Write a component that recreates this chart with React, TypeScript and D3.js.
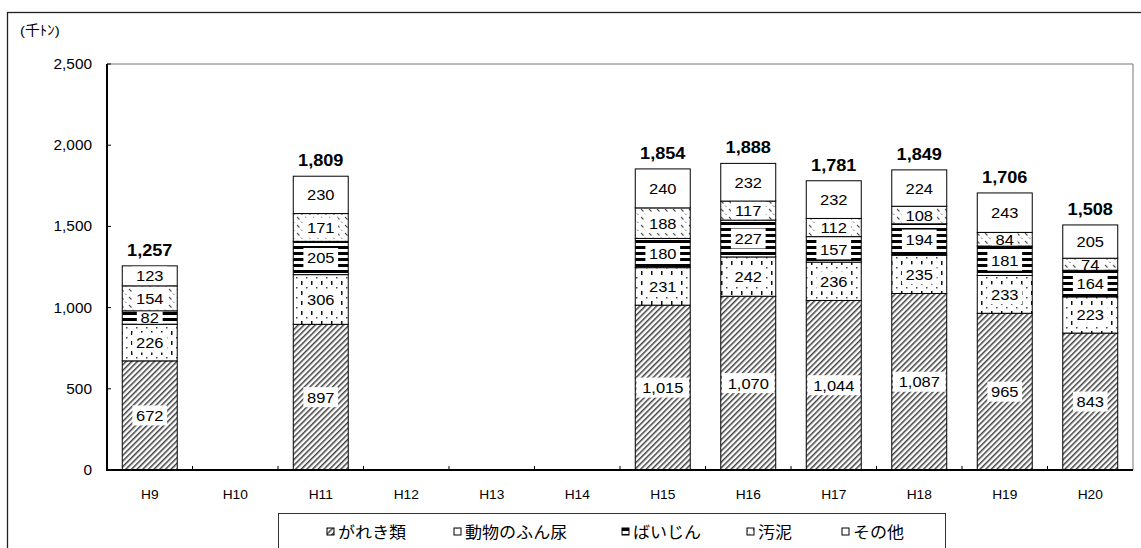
import React, { useEffect, useRef } from 'react';
import * as d3 from 'd3';

// 年度
const years = ['H9', 'H10', 'H11', 'H12', 'H13', 'H14', 'H15', 'H16', 'H17', 'H18', 'H19', 'H20'];
// series (bottom -> top); null = no survey that year
const gareki = [672, null, 897, null, null, null, 1015, 1070, 1044, 1087, 965, 843];
const doubutsu = [226, null, 306, null, null, null, 231, 242, 236, 235, 233, 223];
const baijin = [82, null, 205, null, null, null, 180, 227, 157, 194, 181, 164];
const odei = [154, null, 171, null, null, null, 188, 117, 112, 108, 84, 74];
const sonota = [123, null, 230, null, null, null, 240, 232, 232, 224, 243, 205];
const totals = [1257, null, 1809, null, null, null, 1854, 1888, 1781, 1849, 1706, 1508];
const seriesNames = ['がれき類', '動物のふん尿', 'ばいじん', '汚泥', 'その他'];
const yTicks = [0, 500, 1000, 1500, 2000, 2500];

const SX = 1.1; // the source text is a bit wide
const FONT = "'Liberation Sans', Arial, 'Noto Sans CJK JP', sans-serif";

const App: React.FC = () => {
  const ref = useRef<SVGSVGElement | null>(null);

  useEffect(() => {
    if (!ref.current) return;
    const svg = d3.select(ref.current);
    svg.selectAll('*').remove();

    const plot = { left: 107, right: 1133, top: 64, bottom: 470 };

    const x = d3.scaleBand()
      .domain(years)
      .range([plot.left, plot.right])
      .paddingInner(0.357)
      .paddingOuter(0.1785);

    const y = d3.scaleLinear()
      .domain([0, 2500])
      .range([plot.bottom, plot.top]);

    const fmt = d3.format(',');

    const stretchedText = (g: any, px: number, py: number, str: string, size: number, anchor = 'middle', weight = 'normal') =>
      g.append('text')
        .attr('transform', `translate(${px},${py}) scale(${SX},1)`)
        .attr('text-anchor', anchor)
        .attr('font-size', size)
        .attr('font-weight', weight)
        .attr('font-family', FONT)
        .attr('fill', '#000')
        .text(str);

    // patterns
    const defs = svg.append('defs');
    const p1 = defs.append('pattern').attr('id', 'p-gareki')
      .attr('patternUnits', 'userSpaceOnUse').attr('width', 4).attr('height', 4)
      .attr('patternTransform', 'rotate(45)');
    p1.append('rect').attr('width', 4).attr('height', 4).attr('fill', '#fff');
    p1.append('line').attr('x1', 0.8).attr('y1', 0).attr('x2', 0.8).attr('y2', 4)
      .attr('stroke', '#222').attr('stroke-width', 1.3);

    const p2 = defs.append('pattern').attr('id', 'p-doubutsu')
      .attr('patternUnits', 'userSpaceOnUse').attr('width', 10).attr('height', 10);
    p2.append('rect').attr('width', 10).attr('height', 10).attr('fill', '#fff');
    p2.append('rect').attr('x', 1).attr('y', 1).attr('width', 1.5).attr('height', 4).attr('fill', '#111');
    p2.append('rect').attr('x', 6).attr('y', 7).attr('width', 1.5).attr('height', 1.5).attr('fill', '#444');

    const p3 = defs.append('pattern').attr('id', 'p-baijin')
      .attr('patternUnits', 'userSpaceOnUse').attr('width', 12).attr('height', 6);
    p3.append('rect').attr('width', 12).attr('height', 6).attr('fill', '#fff');
    p3.append('rect').attr('x', 0).attr('y', 0).attr('width', 12).attr('height', 3).attr('fill', '#000');

    const p4 = defs.append('pattern').attr('id', 'p-odei')
      .attr('patternUnits', 'userSpaceOnUse').attr('width', 8).attr('height', 8);
    p4.append('rect').attr('width', 8).attr('height', 8).attr('fill', '#fff');
    p4.append('line').attr('x1', 1).attr('y1', 1).attr('x2', 3.5).attr('y2', 3.5)
      .attr('stroke', '#555').attr('stroke-width', 1.1);
    p4.append('line').attr('x1', 5).attr('y1', 5.5).attr('x2', 6.5).attr('y2', 7)
      .attr('stroke', '#777').attr('stroke-width', 1);

    const fills = ['url(#p-gareki)', 'url(#p-doubutsu)', 'url(#p-baijin)', 'url(#p-odei)', '#fff'];

    // outer frame
    svg.append('rect')
      .attr('x', 7.5).attr('y', 12.5).attr('width', 1200).attr('height', 600)
      .attr('fill', '#fff').attr('stroke', '#222').attr('stroke-width', 1.3);

    // unit
    stretchedText(svg, 20, 35, '(千ﾄﾝ)', 13.5, 'start');

    // plot border (top/right gray)
    svg.append('path')
      .attr('d', `M${plot.left},${plot.top}H${plot.right}V${plot.bottom}`)
      .attr('fill', 'none').attr('stroke', '#777').attr('stroke-width', 1);

    // y axis
    const ya = svg.append('g');
    yTicks.forEach(t => {
      ya.append('line').attr('x1', plot.left).attr('x2', plot.left + 4)
        .attr('y1', y(t)).attr('y2', y(t)).attr('stroke', '#000');
      stretchedText(ya, 92, y(t) + 5, fmt(t), 14, 'end');
    });

    // x ticks between categories
    const step = x.step();
    years.forEach((_, i) => {
      const bx = plot.left + step * (i + 1);
      if (i < years.length - 1) {
        svg.append('line').attr('x1', bx).attr('x2', bx)
          .attr('y1', plot.bottom).attr('y2', plot.bottom - 4).attr('stroke', '#000');
      }
    });
    years.forEach(yr => {
      stretchedText(svg, (x(yr) as number) + x.bandwidth() / 2, 499, yr, 12.5);
    });

    // stacked bars
    const series = [gareki, doubutsu, baijin, odei, sonota];
    const bars = svg.append('g');
    const labels = svg.append('g');
    years.forEach((yr, i) => {
      if (gareki[i] == null) return;
      const bx = x(yr) as number;
      const bw = x.bandwidth();
      let acc = 0;
      series.forEach((s, k) => {
        const v = s[i] as number;
        const y0 = y(acc);
        const y1 = y(acc + v);
        bars.append('rect')
          .attr('x', bx).attr('y', y1).attr('width', bw).attr('height', y0 - y1)
          .attr('fill', fills[k]).attr('stroke', '#000').attr('stroke-width', 1);
        const cy = (y0 + y1) / 2;
        const txt = fmt(v);
        const tw = txt.length * 0.54 * 15 * SX;
        const bh = Math.min(20, y0 - y1 - 1.5);
        labels.append('rect')
          .attr('x', bx + bw / 2 - tw / 2 - 4).attr('y', cy - bh / 2)
          .attr('width', tw + 8).attr('height', bh).attr('fill', '#fff');
        stretchedText(labels, bx + bw / 2, cy + 5.5, txt, 15);
        acc += v;
      });
      stretchedText(labels, bx + bw / 2, y(acc) - 10, fmt(totals[i] as number), 16.5, 'middle', 'bold');
    });

    // axes lines
    svg.append('line').attr('x1', plot.left).attr('x2', plot.left)
      .attr('y1', plot.top).attr('y2', plot.bottom).attr('stroke', '#000').attr('stroke-width', 2);
    svg.append('line').attr('x1', plot.left - 1).attr('x2', plot.right)
      .attr('y1', plot.bottom).attr('y2', plot.bottom).attr('stroke', '#000').attr('stroke-width', 2);

    // legend
    svg.append('rect').attr('x', 278.5).attr('y', 513.5).attr('width', 667).attr('height', 80)
      .attr('fill', '#fff').attr('stroke', '#333').attr('stroke-width', 1);
    const legendX = [327, 454, 622, 747, 842];
    seriesNames.forEach((name, k) => {
      svg.append('rect').attr('x', legendX[k]).attr('y', 528).attr('width', 7).attr('height', 7)
        .attr('fill', fills[k]).attr('stroke', '#000').attr('stroke-width', 1);
      stretchedText(svg, legendX[k] + 11, 538, name, 15.5, 'start');
    });
  }, []);

  return (
    <div>
      <style>{'body{margin:0;}'}</style>
      <svg ref={ref} width={1141} height={548} style={{ display: 'block' }} />
    </div>
  );
};

export default App;
